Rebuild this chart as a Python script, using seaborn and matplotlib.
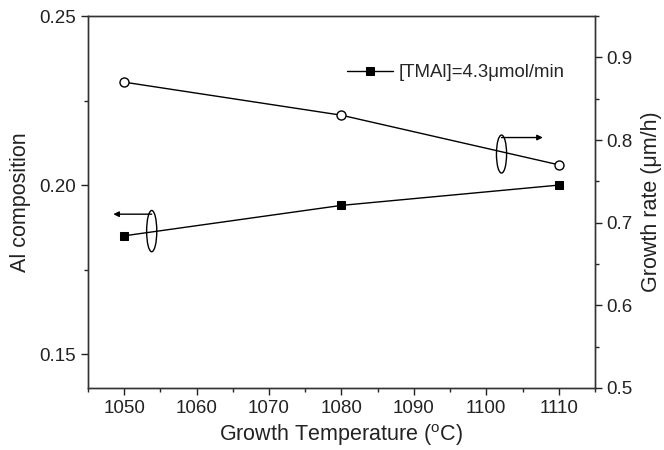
import pandas as pd
import matplotlib.pyplot as plt
import seaborn as sns
from matplotlib.patches import Ellipse
from matplotlib.ticker import MultipleLocator

# data

temps = [1050, 1080, 1110]
al_comp = [0.185, 0.194, 0.200]
growth_rate = [0.870, 0.830, 0.770]
legend_label = "[TMAl]=4.3\u03bcmol/min"

df = pd.DataFrame({"temp": temps, "al": al_comp, "rate": growth_rate})

sns.set_style("ticks")
plt.rcParams['font.family'] = ['Liberation Sans', 'DejaVu Sans']
plt.rcParams['axes.linewidth'] = 1.0

fig = plt.figure(figsize=(6.64, 4.5), dpi=100)
ax = fig.add_axes([0.1325, 0.1378, 0.7635, 0.8266])
ax2 = ax.twinx()

# Al composition (left axis)
sns.lineplot(data=df, x="temp", y="al", ax=ax, color="black", lw=1,
             marker="s", markersize=6, markeredgecolor="black",
             markerfacecolor="black", label=legend_label)

# growth rate (right axis)
sns.lineplot(data=df, x="temp", y="rate", ax=ax2, color="black", lw=1,
             marker="o", markersize=6.5, markeredgecolor="black",
             markerfacecolor="white", markeredgewidth=1, legend=False)

ax.set_xlim(1045, 1115)
ax.set_ylim(0.14, 0.25)
ax2.set_ylim(0.5, 0.95)

ax.xaxis.set_major_locator(MultipleLocator(10))
ax.xaxis.set_minor_locator(MultipleLocator(5))
ax.yaxis.set_minor_locator(MultipleLocator(0.025))
ax2.yaxis.set_minor_locator(MultipleLocator(0.05))
ax.set_yticks([0.15, 0.20, 0.25])
ax.set_yticklabels(["0.15", "0.20", "0.25"])
ax2.set_yticks([0.5, 0.6, 0.7, 0.8, 0.9])

for a in (ax, ax2):
    a.tick_params(which="major", direction="out", length=5, width=1,
                  labelsize=13.5, colors="#222222")
    a.tick_params(which="minor", direction="out", length=3, width=1)
    for s in a.spines.values():
        s.set_visible(True)
        s.set_color("#333333")

ax.set_xlabel("Growth Temperature ($^{\\mathregular{o}}$C)", fontsize=15.5,
              labelpad=4, color="#222222")
ax.set_ylabel("Al composition", fontsize=15.5, labelpad=6, color="#222222")
ax2.set_ylabel("Growth rate (\u03bcm/h)", fontsize=15.5, labelpad=6,
               color="#222222")

# ellipses and arrows marking which axis each series belongs to
ax.add_patch(Ellipse((1053.8, 0.1864), 1.4, 0.0122, fill=False,
                     ec="black", lw=1))
ax.annotate("", xy=(1048.5, 0.1914), xytext=(1053.8, 0.1914),
            arrowprops=dict(arrowstyle="-|>", color="black", lw=1,
                            mutation_scale=8, shrinkA=0, shrinkB=0))
ax2.add_patch(Ellipse((1102.1, 0.783), 1.4, 0.046, fill=False,
                      ec="black", lw=1))
ax2.annotate("", xy=(1107.8, 0.803), xytext=(1102.1, 0.803),
             arrowprops=dict(arrowstyle="-|>", color="black", lw=1,
                             mutation_scale=8, shrinkA=0, shrinkB=0))

ax.legend(loc="center right", bbox_to_anchor=(0.941, 0.847), frameon=False,
          fontsize=13.4, handlelength=2.5, handletextpad=0.3,
          borderpad=0, borderaxespad=0)

fig.savefig("out.png", dpi=100)
